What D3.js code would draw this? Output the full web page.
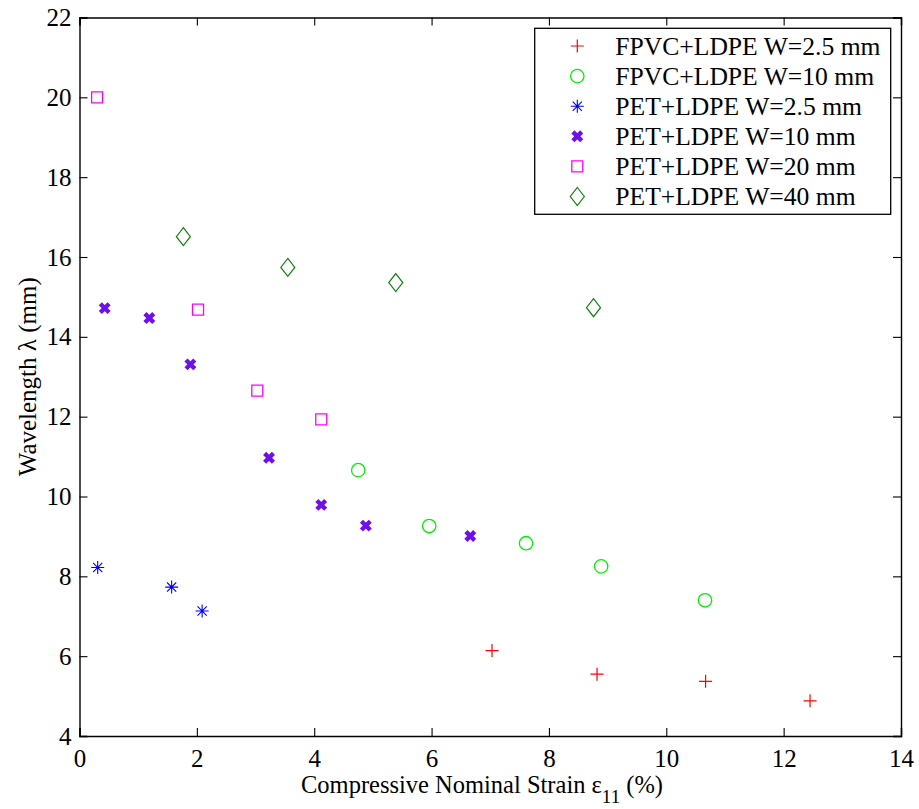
<!DOCTYPE html>
<html>
<head>
<meta charset="utf-8">
<script src="https://cdn.jsdelivr.net/npm/d3@7"></script>
<style>
  body { margin: 0; background: #fff; }
  svg text { font-family: "Liberation Serif", "Times New Roman", serif; fill: #000; }
</style>
</head>
<body>
<div id="chart"></div>
<script>
// data: strain (%) vs wavelength (mm)
const fpvc25X = [7.03, 8.82, 10.67, 12.45];
const fpvc25Y = [6.14, 5.55, 5.37, 4.88];

const fpvc10X = [4.75, 5.96, 7.61, 8.89, 10.66];
const fpvc10Y = [10.66, 9.26, 8.83, 8.25, 7.40];

const pet25X = [0.31, 1.57, 2.09];
const pet25Y = [8.22, 7.73, 7.13];

const pet10X = [0.43, 1.19, 1.89, 3.23, 4.12, 4.88, 6.66];
const pet10Y = [14.72, 14.47, 13.31, 10.97, 9.79, 9.27, 9.01];

const pet20X = [0.30, 2.02, 3.03, 4.12];
const pet20Y = [20.0, 14.68, 12.65, 11.93];

const pet40X = [1.77, 3.55, 5.39, 8.76];
const pet40Y = [16.51, 15.74, 15.36, 14.73];

const seriesNames = ["FPVC+LDPE W=2.5 mm", "FPVC+LDPE W=10 mm", "PET+LDPE W=2.5 mm",
                     "PET+LDPE W=10 mm", "PET+LDPE W=20 mm", "PET+LDPE W=40 mm"];
const xTicks = [0, 2, 4, 6, 8, 10, 12, 14];
const yTicks = [4, 6, 8, 10, 12, 14, 16, 18, 20, 22];

const W = 919, H = 809;
const margin = { top: 17.5, right: 18, bottom: 73, left: 79.5 };

// marker shapes, drawn centred on 0,0
const markers = {
    plus: { d: "M-6.5,0H6.5M0,-6.5V6.5", sw: 1.2 },
    circle: { d: "M6.7,0A6.7,6.7 0 1,1 -6.7,0A6.7,6.7 0 1,1 6.7,0Z", sw: 1.3 },
    star: { d: "M-6.5,0H6.5M0,-6.5V6.5M-4.6,-4.6L4.6,4.6M-4.6,4.6L4.6,-4.6", sw: 1.1 },
    xbold: { d: "M-4.4,-4.4L4.4,4.4M-4.4,4.4L4.4,-4.4", sw: 4.4 },
    square: { d: "M-5.5,-5.5H5.5V5.5H-5.5Z", sw: 1.3 },
    diamond: { d: "M0,-9L7,0L0,9L-7,0Z", sw: 1.2 }
};

const series = [
    { name: seriesNames[0], xs: fpvc25X, ys: fpvc25Y, color: "#ff0000", marker: "plus" },
    { name: seriesNames[1], xs: fpvc10X, ys: fpvc10Y, color: "#00ee00", marker: "circle" },
    { name: seriesNames[2], xs: pet25X, ys: pet25Y, color: "#0000ff", marker: "star" },
    { name: seriesNames[3], xs: pet10X, ys: pet10Y, color: "#7010e8", marker: "xbold" },
    { name: seriesNames[4], xs: pet20X, ys: pet20Y, color: "#ff00ff", marker: "square" },
    { name: seriesNames[5], xs: pet40X, ys: pet40Y, color: "#108010", marker: "diamond" }
];

const svg = d3.select("#chart").append("svg")
    .attr("width", W)
    .attr("height", H);

const x = d3.scaleLinear().domain([0, 14]).range([margin.left, W - margin.right]);
const y = d3.scaleLinear().domain([4, 22]).range([H - margin.bottom, margin.top]);

const fs = 25;
const tickLen = 8;

// axes, ticks pointing inward on all four sides
svg.append("g")
    .attr("transform", `translate(0,${y(4)})`)
    .call(d3.axisBottom(x).tickValues(xTicks).tickSize(-tickLen).tickFormat(d3.format("d")))
    .call(g => g.selectAll("text").attr("font-size", fs).attr("dy", "0.71em").attr("y", 13));

svg.append("g")
    .attr("transform", `translate(${x(0)},0)`)
    .call(d3.axisLeft(y).tickValues(yTicks).tickSize(-tickLen).tickPadding(8).tickFormat(d3.format("d")))
    .call(g => g.selectAll("text").attr("font-size", fs));

svg.append("g")
    .attr("transform", `translate(0,${y(22)})`)
    .call(d3.axisTop(x).tickValues(xTicks).tickSize(-tickLen).tickFormat(""));

svg.append("g")
    .attr("transform", `translate(${x(14)},0)`)
    .call(d3.axisRight(y).tickValues(yTicks).tickSize(-tickLen).tickFormat(""));

svg.selectAll(".domain").attr("stroke", "#000").attr("stroke-width", 1.4);
svg.selectAll(".tick line").attr("stroke", "#000").attr("stroke-width", 1.1);

// points
series.forEach(s => {
    const m = markers[s.marker];
    svg.append("g").selectAll("path")
        .data(s.xs.map((v, i) => [v, s.ys[i]]))
        .enter().append("path")
        .attr("transform", d => `translate(${x(d[0])},${y(d[1])})`)
        .attr("d", m.d)
        .attr("fill", "none")
        .attr("stroke", s.color)
        .attr("stroke-width", m.sw);
});

// axis titles
const xt = svg.append("text")
    .attr("x", 301)
    .attr("y", 793)
    .attr("font-size", 24.5);
xt.append("tspan").text("Compressive Nominal Strain ε");
xt.append("tspan").attr("dy", 10).attr("font-size", 19).text("11");
xt.append("tspan").attr("dy", -10).text(" (%)");

svg.append("text")
    .attr("transform", `translate(36,${(y(4) + y(22)) / 2}) rotate(-90)`)
    .attr("text-anchor", "middle")
    .attr("font-size", fs)
    .text("Wavelength λ (mm)");

// legend
const legend = svg.append("g");
legend.append("rect")
    .attr("x", 534.7).attr("y", 28.3)
    .attr("width", 356).attr("height", 186)
    .attr("fill", "#fff")
    .attr("stroke", "#000")
    .attr("stroke-width", 1.3);

const rows = legend.selectAll(".row")
    .data(series)
    .enter().append("g")
    .attr("class", "row")
    .attr("transform", (d, i) => `translate(577.3,${46 + i * 30.1})`);

rows.append("path")
    .attr("d", d => markers[d.marker].d)
    .attr("fill", "none")
    .attr("stroke", d => d.color)
    .attr("stroke-width", d => markers[d.marker].sw);

rows.append("text")
    .attr("x", 38)
    .attr("dy", "0.35em")
    .attr("font-size", 25.6)
    .text(d => d.name);
</script>
</body>
</html>
